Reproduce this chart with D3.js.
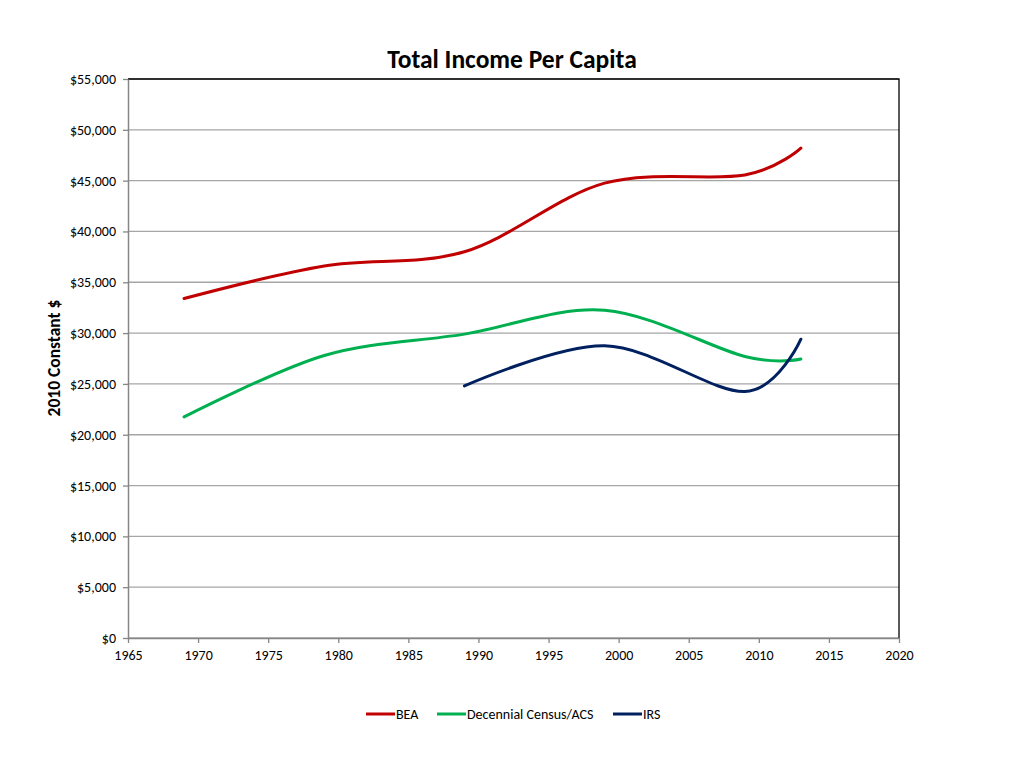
<!DOCTYPE html>
<html><head><meta charset="utf-8">
<script src="https://cdn.jsdelivr.net/npm/d3@7"></script>
<style>
body{margin:0;background:#fff;}
svg{font-family:Carlito,Calibri,Lato,"Open Sans",sans-serif;}
</style></head>
<body><svg id="c" width="1024" height="768"></svg>
<script>
const seriesNames = ["BEA","Decennial Census/ACS","IRS"];
const seriesColors = ["#C00000","#00B050","#002060"];
const beaYears = [1969,1979,1989,1999,2009,2013];
const beaValues = [33400,36600,38000,44750,45550,48200];
const censusYears = [1969,1979,1989,1999,2009,2013];
const censusValues = [21750,27800,29900,32250,27700,27450];
const irsYears = [1989,1999,2009,2013];
const irsValues = [24800,28750,24250,29400];
const xTicks = [1965,1970,1975,1980,1985,1990,1995,2000,2005,2010,2015,2020];
const yTicks = [0,5000,10000,15000,20000,25000,30000,35000,40000,45000,50000,55000];

const svg = d3.select("#c");
const L=128,R=899,T=79,B=638;
const x = d3.scaleLinear().domain([1965,2020]).range([L,R]);
const y = d3.scaleLinear().domain([0,55000]).range([B,T]);

// gridlines
svg.append("g").selectAll("line").data(yTicks).join("line")
  .attr("x1",L).attr("x2",R).attr("y1",d=>y(d)).attr("y2",d=>y(d))
  .attr("stroke","#a6a6a6").attr("stroke-width",1.3);

// border top/right
svg.append("path").attr("d",`M${L},${T}H${R}V${B}`).attr("fill","none").attr("stroke","#000").attr("stroke-width",1.3);

// axes
const fmt = d=>"$"+d3.format(",")(d);
const ya = svg.append("g").attr("transform",`translate(${L},0)`)
  .call(d3.axisLeft(y).tickValues(yTicks).tickFormat(fmt).tickSize(5).tickSizeOuter(0));
const xa = svg.append("g").attr("transform",`translate(0,${B})`)
  .call(d3.axisBottom(x).tickValues(xTicks).tickFormat(d3.format("d")).tickSize(5).tickSizeOuter(0));
[ya,xa].forEach(g=>{
  g.select(".domain").attr("stroke","#868686").attr("stroke-width",1.5);
  g.selectAll(".tick line").attr("stroke","#868686").attr("stroke-width",1.3);
  g.selectAll("text").attr("font-size",14).attr("fill","#000").style("font-family","Carlito,Calibri,Lato,sans-serif");
});
ya.selectAll("text").attr("x",-12);
xa.selectAll("text").attr("y",12);

// lines
const line = d3.line().x(d=>x(d[0])).y(d=>y(d[1])).curve(d3.curveCardinal.tension(0));
const data = [
  d3.zip(beaYears,beaValues),
  d3.zip(censusYears,censusValues),
  d3.zip(irsYears,irsValues)
];
svg.append("g").selectAll("path").data(data).join("path")
  .attr("d",line).attr("fill","none")
  .attr("stroke",(d,i)=>seriesColors[i]).attr("stroke-width",3).attr("stroke-linecap","round");

// title
svg.append("text").attr("x",512).attr("y",68).attr("text-anchor","middle")
  .attr("font-size",25.5).attr("font-weight","bold").text("Total Income Per Capita");
// y label
svg.append("text").attr("transform","translate(60,358) rotate(-90)").attr("text-anchor","middle")
  .attr("font-size",17.5).attr("font-weight","bold").text("2010 Constant $");

// legend
const legX = [366,437,613];
const lg = svg.append("g").selectAll("g").data(seriesNames).join("g")
  .attr("transform",(d,i)=>`translate(${legX[i]},714)`);
lg.append("line").attr("x1",0).attr("x2",29).attr("y1",0).attr("y2",0)
  .attr("stroke",(d,i)=>seriesColors[i]).attr("stroke-width",3);
lg.append("text").attr("x",30).attr("y",5).attr("font-size",14).text(d=>d);
</script></body></html>
